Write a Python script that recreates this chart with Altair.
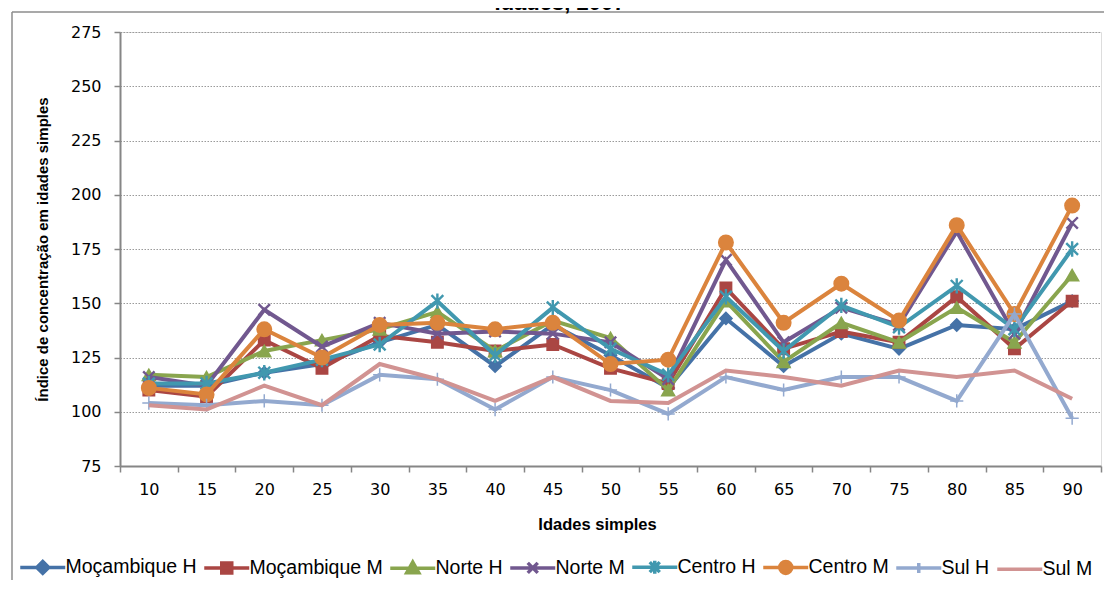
import altair as alt
import pandas as pd

title_text = "Idades, 2007"
ages = [10, 15, 20, 25, 30, 35, 40, 45, 50, 55, 60, 65, 70, 75, 80, 85, 90]
series_names = ["Moçambique H", "Moçambique M", "Norte H", "Norte M",
                "Centro H", "Centro M", "Sul H", "Sul M"]

moc_h    = [112, 112, 118, 122, 132, 140, 121, 140, 126, 111, 143, 121, 136, 129, 140, 138, 151]
moc_m    = [110, 107, 133, 120, 135, 132, 128, 131, 120, 113, 157, 129, 137, 132, 153, 129, 151]
norte_h  = [117, 116, 128, 133, 138, 146, 128, 142, 134, 110, 151, 123, 141, 132, 148, 132, 163]
norte_m  = [116, 112, 147, 130, 141, 136, 137, 136, 132, 115, 170, 132, 148, 140, 183, 136, 187]
centro_h = [113, 113, 118, 124, 131, 151, 126, 148, 129, 117, 153, 128, 149, 139, 158, 138, 175]
centro_m = [111, 108, 138, 125, 140, 141, 138, 141, 122, 124, 178, 141, 159, 142, 186, 145, 195]
sul_h    = [104, 103, 105, 103, 117, 115, 101, 116, 110, 99, 116, 110, 116, 116, 105, 145, 97]
sul_m    = [103, 101, 112, 103, 122, 115, 105, 116, 105, 104, 119, 116, 112, 119, 116, 119, 106]

series_values = [moc_h, moc_m, norte_h, norte_m, centro_h, centro_m, sul_h, sul_m]
y_ticks = [75, 100, 125, 150, 175, 200, 225, 250, 275]

colors = ["#4572A7", "#AA4643", "#89A54E", "#71588F",
          "#4198AF", "#DB843D", "#93A9CF", "#D19392"]

# chart markers: (shape, size, strokeWidth)
markers = [
    ("diamond", 150, 1.5),
    ("square", 130, 1.5),
    ("triangle-up", 170, 1.5),
    ("M-1,-1L1,1M-1,1L1,-1", 130, 2.4),
    ("M-1,-1L1,1M-1,1L1,-1M0,-1.3L0,1.3", 140, 2.4),
    ("circle", 210, 1.5),
    ("M-1.2,0H1.2M0,-1.2V1.2", 120, 1.5),
    None,
]
line_half = "M-4.5,0H4.5"
legend_marks = [
    "M-1.2,0L0,-1.2L1.2,0L0,1.2Z",
    "M-1,-1H1V1H-1Z",
    "M0,-1.2L1.2,0.9H-1.2Z",
    "M-1,-1L1,1M-1,1L1,-1",
    "M-1,-1L1,1M-1,1L1,-1M0,-1.3V1.3",
    "M-1.2,0A1.2,1.2 0 1,0 1.2,0A1.2,1.2 0 1,0 -1.2,0Z",
    "M0,-1V1",
    "",
]
legend_shapes = [line_half + p for p in legend_marks]

rows = []
for name, vals in zip(series_names, series_values):
    for a, v in zip(ages, vals):
        rows.append({"idade": str(a), "serie": name, "valor": v})
df = pd.DataFrame(rows)

W, H = 981, 434

tick_font = "DejaVu Sans"
legend_font = "Liberation Sans"
title_font = "Liberation Sans"

legend = alt.Legend(
    title=None, orient="none", legendX=-87, legendY=525,
    direction="horizontal", columns=8,
    symbolSize=100, symbolStrokeWidth=3.5,
    labelOffset=13, columnPadding=0,
    labelFont=legend_font, labelFontSize=19.5, labelColor="#000000",
)

x = alt.X("idade:O", sort=[str(a) for a in ages],
          scale=alt.Scale(type="band", paddingInner=0, paddingOuter=0),
          axis=alt.Axis(title="Idades simples", tickBand="extent",
                        labelAngle=0, labelFont=tick_font, labelFontSize=16,
                        labelColor="#000000", labelPadding=9,
                        titleFont=title_font, titleFontSize=16.5, titleFontWeight="bold",
                        titlePadding=19, titleX=477,
                        tickSize=6, tickColor="#868686", tickWidth=1.5,
                        domainColor="#868686", domainWidth=2, grid=False))
y = alt.Y("valor:Q", scale=alt.Scale(domain=[75, 275], nice=False, zero=False),
          axis=alt.Axis(title="Índice de concentração  em idades simples", values=y_ticks,
                        labelFont=tick_font, labelFontSize=16, labelColor="#000000",
                        labelPadding=13, titleFont=title_font, titleFontSize=15,
                        titleFontWeight="bold", titlePadding=20,
                        tickSize=6, tickColor="#868686", tickWidth=1.5,
                        domainColor="#868686", domainWidth=2,
                        grid=True, gridColor="#9a9a9a", gridDash=[1.5, 1.5], gridWidth=1))

color_scale = alt.Scale(domain=series_names, range=colors)

layers = []
for i, name in enumerate(series_names):
    base = alt.Chart(df).transform_filter(alt.datum.serie == name)
    layers.append(base.mark_line(strokeWidth=4).encode(
        x=x, y=y, color=alt.Color("serie:N", scale=color_scale, legend=None)))
    if markers[i] is not None:
        shp, sz, sw = markers[i]
        layers.append(base.mark_point(filled=True, fill=colors[i], stroke=colors[i],
                                      shape=shp, size=sz, strokeWidth=sw, opacity=1)
                      .encode(x=x, y=y))

# legend-only layer: its symbols are placed outside the drawing; it only feeds the legend
legend_layer = alt.Chart(df).mark_point(filled=True, strokeWidth=3.5, opacity=1).encode(
    x=alt.value(-3000), y=alt.value(-3000),
    fill=alt.Fill("serie:N", scale=alt.Scale(domain=series_names, range=colors), legend=legend),
    stroke=alt.Stroke("serie:N", scale=alt.Scale(domain=series_names, range=colors), legend=legend),
    shape=alt.Shape("serie:N", scale=alt.Scale(domain=series_names, range=legend_shapes), legend=legend),
)

deco = alt.Chart(pd.DataFrame({"t": [title_text]}))
border_top = deco.mark_rule(color="#8c8c8c", strokeWidth=1.5).encode(
    x=alt.value(-108), x2=alt.value(1000), y=alt.value(-20))
border_left = deco.mark_rule(color="#8c8c8c", strokeWidth=1.5).encode(
    x=alt.value(-108), y=alt.value(-20), y2=alt.value(570))
title_mark = deco.mark_text(font="Liberation Sans", fontSize=22, fontWeight="bold",
                            baseline="alphabetic", align="center", color="#000000").encode(
    text="t:N", x=alt.value(440), y=alt.value(-22))

chart = alt.layer(legend_layer, *layers, border_top, border_left, title_mark).properties(
    width=W, height=H,
    autosize=alt.AutoSizeParams(type="none"),
    padding={"left": 112, "top": 24, "right": 3, "bottom": 114},
).configure_view(stroke=None).configure(background="white")

chart.save("out.html", embed_options={"renderer": "svg", "actions": False})
